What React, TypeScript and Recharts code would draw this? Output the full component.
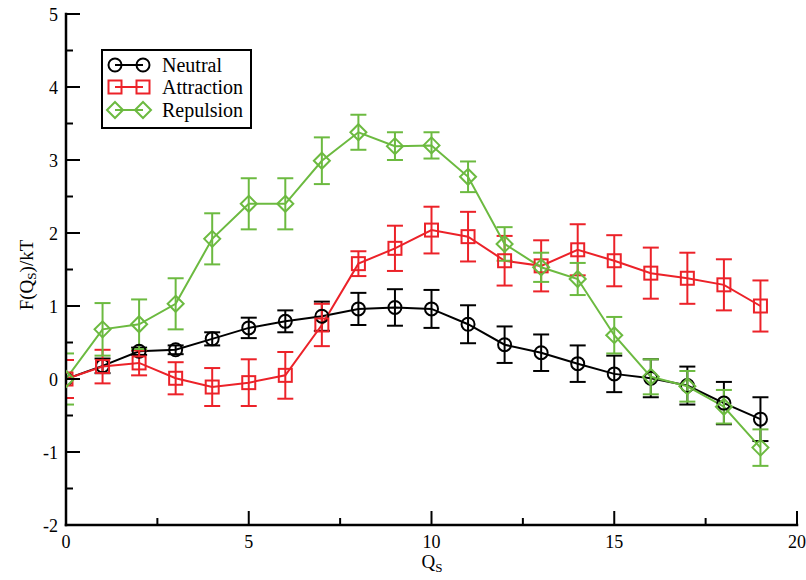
import { ErrorBar, Legend, Line, LineChart, XAxis, YAxis } from 'recharts';

const qValues = [0, 1, 2, 3, 4, 5, 6, 7, 8, 9, 10, 11, 12, 13, 14, 15, 16, 17, 18, 19];

const neutral = [0, 0.18, 0.38, 0.4, 0.55, 0.7, 0.79, 0.86, 0.96, 0.98, 0.96, 0.75, 0.47, 0.36, 0.21, 0.07, 0.01, -0.09, -0.33, -0.55];
const neutralErr = [0, 0.1, 0.05, 0.06, 0.09, 0.14, 0.15, 0.2, 0.22, 0.25, 0.26, 0.26, 0.25, 0.25, 0.25, 0.25, 0.26, 0.26, 0.29, 0.3];

const attraction = [0, 0.17, 0.22, 0.01, -0.11, -0.05, 0.05, 0.74, 1.58, 1.79, 2.04, 1.95, 1.62, 1.55, 1.77, 1.62, 1.45, 1.38, 1.29, 1.0];
const attractionErr = [0.26, 0.23, 0.17, 0.22, 0.26, 0.32, 0.32, 0.29, 0.17, 0.31, 0.32, 0.34, 0.34, 0.35, 0.35, 0.35, 0.35, 0.35, 0.35, 0.35];

const repulsion = [0, 0.68, 0.75, 1.03, 1.92, 2.4, 2.4, 2.99, 3.38, 3.19, 3.2, 2.77, 1.85, 1.53, 1.37, 0.6, 0.03, -0.1, -0.38, -0.94];
const repulsionErr = [0.35, 0.36, 0.34, 0.35, 0.35, 0.35, 0.35, 0.32, 0.24, 0.19, 0.18, 0.21, 0.23, 0.2, 0.22, 0.25, 0.24, 0.21, 0.23, 0.25];

const xTicks = [0, 2.5, 5, 7.5, 10, 12.5, 15, 17.5, 20];
const yTicks = [-2, -1.5, -1, -0.5, 0, 0.5, 1, 1.5, 2, 2.5, 3, 3.5, 4, 4.5, 5];

const data = qValues.map((q, i) => ({
  q,
  neutral: neutral[i],
  neutralErr: neutralErr[i],
  attraction: attraction[i],
  attractionErr: attractionErr[i],
  repulsion: repulsion[i],
  repulsionErr: repulsionErr[i],
}));

const FONT = "'Liberation Serif', 'Times New Roman', serif";
const BLACK = '#000000';
const RED = '#ec2229';
const GREEN = '#6cba40';
const MAJOR = 14;
const MINOR = 7;
const CLIP = 'url(#plot-area-clip)';

type Kind = 'circle' | 'square' | 'diamond';

const SERIES: { key: string; name: string; color: string; kind: Kind }[] = [
  { key: 'neutral', name: 'Neutral', color: BLACK, kind: 'circle' },
  { key: 'attraction', name: 'Attraction', color: RED, kind: 'square' },
  { key: 'repulsion', name: 'Repulsion', color: GREEN, kind: 'diamond' },
];

function marker(kind: Kind, cx: number, cy: number, color: string, key?: string | number) {
  if (kind === 'circle') {
    return <circle key={key} cx={cx} cy={cy} r={6.5} fill="none" stroke={color} strokeWidth={2} />;
  }
  if (kind === 'square') {
    return <rect key={key} x={cx - 6.5} y={cy - 6.5} width={13} height={13} fill="none" stroke={color} strokeWidth={2} />;
  }
  return (
    <path
      key={key}
      d={`M${cx},${cy - 8}L${cx + 8},${cy}L${cx},${cy + 8}L${cx - 8},${cy}Z`}
      fill="none"
      stroke={color}
      strokeWidth={2}
    />
  );
}

// the plot frame is known: x 66..797, y 14..525
function BottomTick({ x, y, payload, index }: any) {
  const v = payload.value;
  const major = v % 5 === 0;
  return (
    <g>
      {index === 0 && (
        <defs>
          <clipPath id="plot-area-clip">
            <rect x={66} y={14} width={731} height={511} />
          </clipPath>
        </defs>
      )}
      <line x1={x} y1={y} x2={x} y2={y - (major ? MAJOR : MINOR)} stroke={BLACK} strokeWidth={2} />
      {major && (
        <text x={x} y={y + 23} textAnchor="middle" fontSize={18} fontFamily={FONT} fill={BLACK}>
          {v}
        </text>
      )}
    </g>
  );
}

function TopTick({ x, y, payload }: any) {
  const major = payload.value % 5 === 0;
  return <line x1={x} y1={y} x2={x} y2={y + (major ? MAJOR : MINOR)} stroke={BLACK} strokeWidth={2} />;
}

function LeftTick({ x, y, payload }: any) {
  const v = payload.value;
  const major = Number.isInteger(v);
  return (
    <g>
      <line x1={x} y1={y} x2={x + (major ? MAJOR : MINOR)} y2={y} stroke={BLACK} strokeWidth={2} />
      {major && (
        <text x={x - 8} y={y + 6.5} textAnchor="end" fontSize={18} fontFamily={FONT} fill={BLACK}>
          {v}
        </text>
      )}
    </g>
  );
}

function RightTick({ x, y, payload }: any) {
  const major = Number.isInteger(payload.value);
  return <line x1={x} y1={y} x2={x - (major ? MAJOR : MINOR)} y2={y} stroke={BLACK} strokeWidth={2} />;
}

function LegendBox() {
  const rows = [17, 39, 62];
  return (
    <svg width={154} height={82} style={{ display: 'block' }}>
      <rect x={2} y={2} width={149} height={78} fill="#fff" stroke={BLACK} strokeWidth={2} />
      {SERIES.map((s, i) => (
        <g key={s.key}>
          <line x1={15} y1={rows[i]} x2={43} y2={rows[i]} stroke={s.color} strokeWidth={2} />
          {marker(s.kind, 15, rows[i], s.color)}
          {marker(s.kind, 43, rows[i], s.color)}
          <text x={62} y={rows[i] + 7} fontSize={20} fontFamily={FONT} fill={BLACK}>
            {s.name}
          </text>
        </g>
      ))}
    </svg>
  );
}

const axisLine = { stroke: BLACK, strokeWidth: 2.5, strokeLinecap: 'square' as const };

export default function App() {
  return (
    <div style={{ position: 'absolute', left: 0, top: 0, width: 806, height: 580, background: '#fff' }}>
      <LineChart width={806} height={580} data={data} margin={{ top: 14, right: 9, bottom: 15, left: 6 }}>
        {SERIES.map((s) => (
          <Line
            key={s.key}
            dataKey={s.key}
            name={s.name}
            stroke={s.color}
            strokeWidth={2}
            isAnimationActive={false}
            dot={(p: any) => (
              <g key={p.index} clipPath={CLIP}>
                {marker(s.kind, p.cx, p.cy, s.color)}
              </g>
            )}
            activeDot={false}
          >
            <ErrorBar
              dataKey={`${s.key}Err`}
              direction="y"
              width={8}
              stroke={s.color}
              strokeWidth={2}
              clipPath={CLIP}
              isAnimationActive={false}
            />
          </Line>
        ))}
        <XAxis
          dataKey="q"
          type="number"
          domain={[0, 20]}
          ticks={xTicks}
          interval={0}
          allowDataOverflow
          height={40}
          tickSize={0}
          tickMargin={0}
          tickLine={false}
          axisLine={axisLine}
          tick={(p: any) => <BottomTick {...p} />}
          label={{
            content: () => (
              <text x={432} y={568} textAnchor="middle" fontSize={19} fontFamily={FONT} fill={BLACK}>
                Q<tspan dy={4} fontSize={13}>S</tspan>
              </text>
            ),
          }}
        />
        <XAxis
          xAxisId="top"
          orientation="top"
          dataKey="q"
          type="number"
          domain={[0, 20]}
          ticks={xTicks}
          interval={0}
          allowDataOverflow
          height={0}
          tickSize={0}
          tickMargin={0}
          tickLine={false}
          axisLine={axisLine}
          tick={(p: any) => <TopTick {...p} />}
        />
        <YAxis
          type="number"
          domain={[-2, 5]}
          ticks={yTicks}
          interval={0}
          allowDataOverflow
          width={60}
          tickSize={0}
          tickMargin={0}
          tickLine={false}
          axisLine={axisLine}
          tick={(p: any) => <LeftTick {...p} />}
          label={{
            content: () => (
              <text
                transform="translate(33,275) rotate(-90)"
                textAnchor="middle"
                fontSize={19}
                fontFamily={FONT}
                fill={BLACK}
              >
                F(Q<tspan dy={3} fontSize={13}>S</tspan>
                <tspan dy={-3}>)/kT</tspan>
              </text>
            ),
          }}
        />
        <YAxis
          yAxisId="right"
          orientation="right"
          type="number"
          domain={[-2, 5]}
          ticks={yTicks}
          interval={0}
          allowDataOverflow
          width={0}
          tickSize={0}
          tickMargin={0}
          tickLine={false}
          axisLine={axisLine}
          tick={(p: any) => <RightTick {...p} />}
        />
        <Legend
          layout="vertical"
          align="center"
          verticalAlign="middle"
          wrapperStyle={{ left: 100, top: 48, width: 154, height: 82 }}
          content={() => <LegendBox />}
        />
      </LineChart>
    </div>
  );
}
